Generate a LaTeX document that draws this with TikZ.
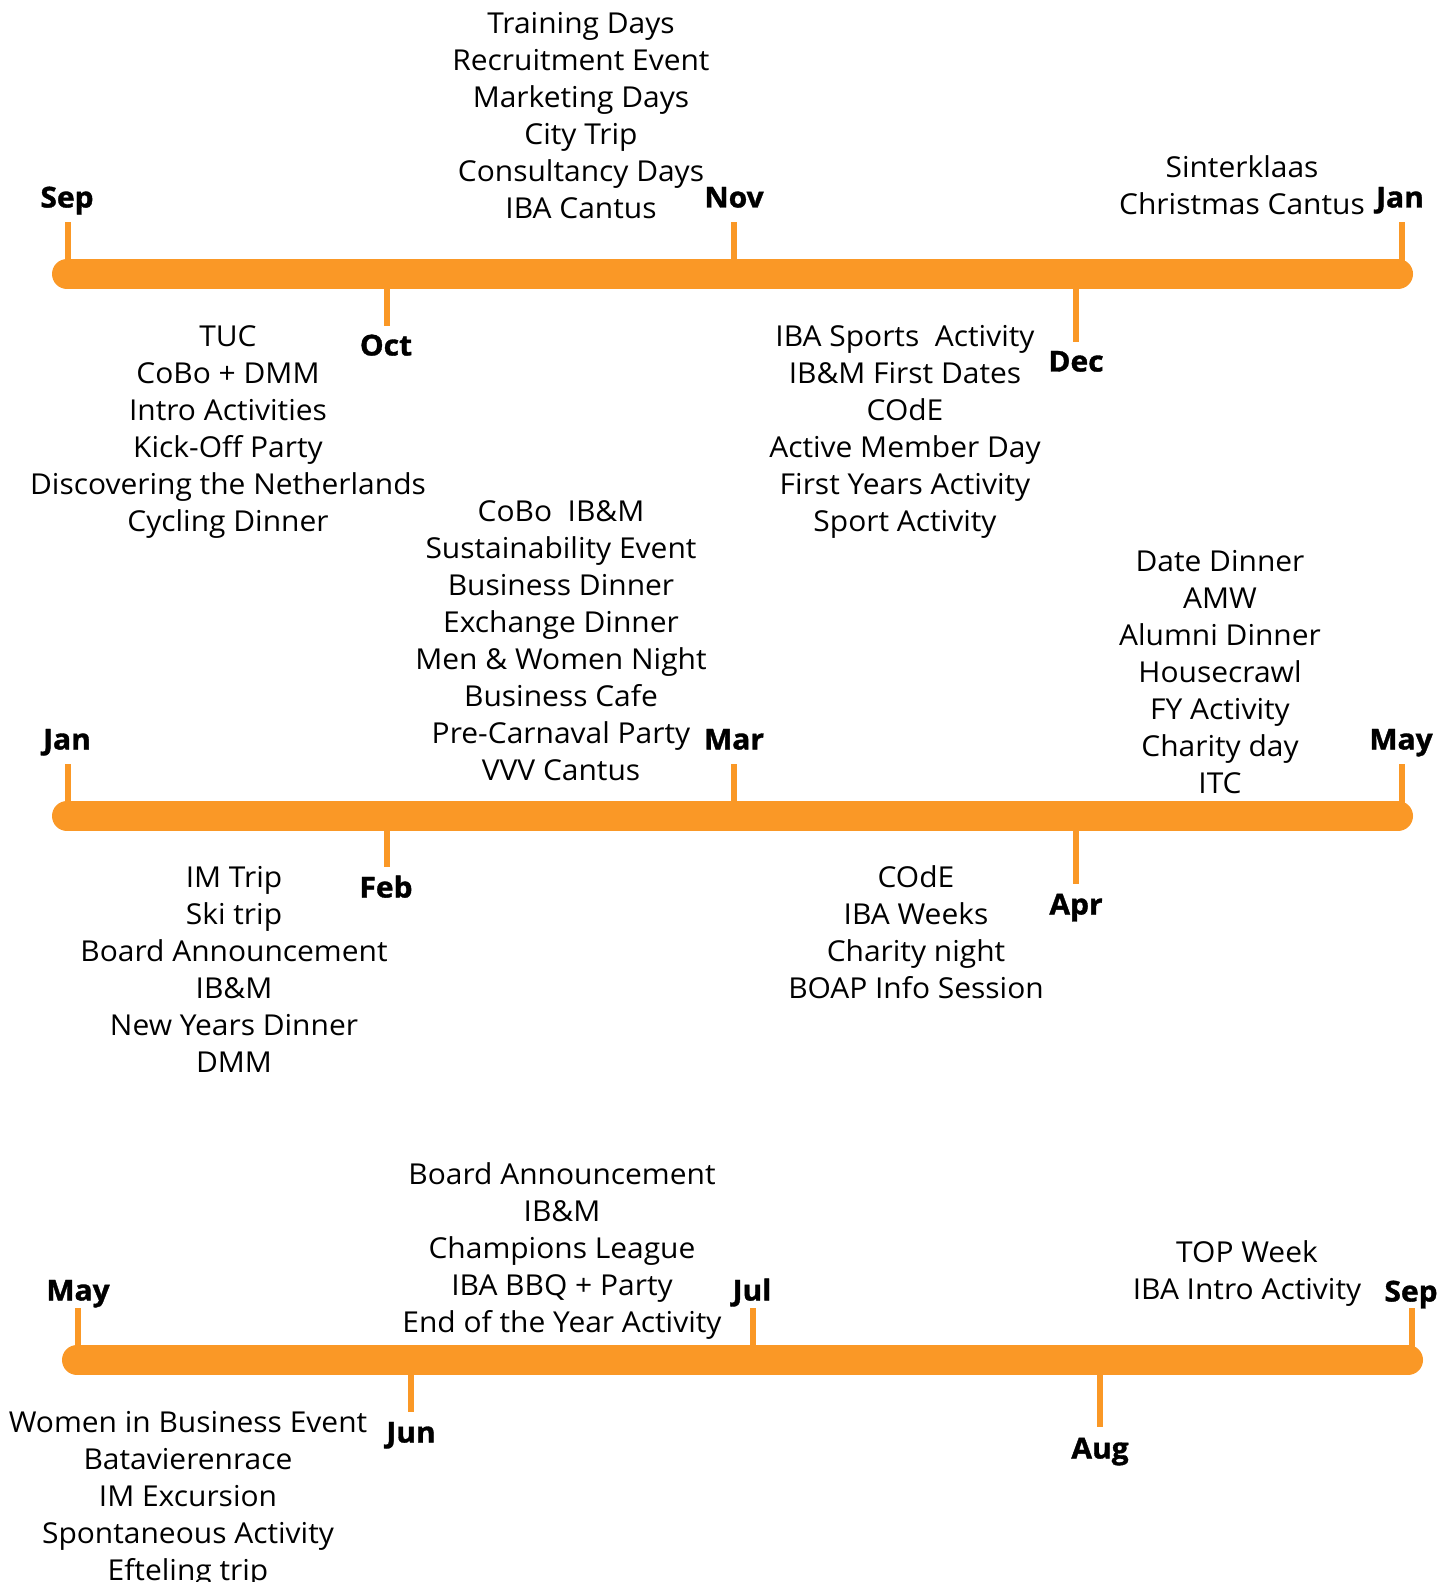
\documentclass[tikz,border=0pt]{standalone}
\usepackage{fontspec}
\setmainfont{Open Sans}[FakeStretch = 1.04, BoldFeatures = {FakeBold = 1.2}]
\definecolor{barorange}{RGB}{250,152,38}
\tikzset{
	bar/.style = {line width = 15pt, line cap = round, barorange},
	tick/.style = {line width = 3pt, barorange},
	month/.style = {font = \fontsize{14.4}{17}\selectfont\bfseries, inner sep = 0pt, anchor = base},
	events/.style = {font = \fontsize{14.4}{18.5}\selectfont, align = center, inner sep = 0pt,
		execute at begin node = \strut, execute at end node = \strut}
}
\begin{document}
\begin{tikzpicture}[x = 0.5pt, y = -0.5pt]
	\useasboundingbox (0, 0) rectangle (1452, 1582);

	% first row: Sep - Jan
	\coordinate (a0) at (67, 274);
	\coordinate (a6) at (1398, 274);
	\coordinate (a1) at (68, 274);
	\coordinate (a2) at (387, 274);
	\coordinate (a3) at (734, 274);
	\coordinate (a4) at (1076, 274);
	\coordinate (a5) at (1402, 274);
	\coordinate (a1e) at (68, 222);
	\coordinate (a2e) at (387, 326);
	\coordinate (a3e) at (734, 222);
	\coordinate (a4e) at (1076, 342);
	\coordinate (a5e) at (1402, 222);

	% second row: Jan - May
	\coordinate (b0) at (67, 816);
	\coordinate (b6) at (1398, 816);
	\coordinate (b1) at (68, 816);
	\coordinate (b2) at (387, 816);
	\coordinate (b3) at (734, 816);
	\coordinate (b4) at (1076, 816);
	\coordinate (b5) at (1402, 816);
	\coordinate (b1e) at (68, 764);
	\coordinate (b2e) at (387, 867);
	\coordinate (b3e) at (734, 764);
	\coordinate (b4e) at (1076, 884);
	\coordinate (b5e) at (1402, 764);

	% third row: May - Sep
	\coordinate (c0) at (77, 1360);
	\coordinate (c6) at (1408, 1360);
	\coordinate (c1) at (78, 1360);
	\coordinate (c2) at (411, 1360);
	\coordinate (c3) at (753, 1360);
	\coordinate (c4) at (1100, 1360);
	\coordinate (c5) at (1412, 1360);
	\coordinate (c1e) at (78, 1308);
	\coordinate (c2e) at (411, 1412);
	\coordinate (c3e) at (753, 1308);
	\coordinate (c4e) at (1100, 1427);
	\coordinate (c5e) at (1412, 1308);

	\draw [tick] (a1) -- (a1e);
	\draw [tick] (a2) -- (a2e);
	\draw [tick] (a3) -- (a3e);
	\draw [tick] (a4) -- (a4e);
	\draw [tick] (a5) -- (a5e);
	\draw [tick] (b1) -- (b1e);
	\draw [tick] (b2) -- (b2e);
	\draw [tick] (b3) -- (b3e);
	\draw [tick] (b4) -- (b4e);
	\draw [tick] (b5) -- (b5e);
	\draw [tick] (c1) -- (c1e);
	\draw [tick] (c2) -- (c2e);
	\draw [tick] (c3) -- (c3e);
	\draw [tick] (c4) -- (c4e);
	\draw [tick] (c5) -- (c5e);

	\draw [bar] (a0) -- (a6);
	\draw [bar] (b0) -- (b6);
	\draw [bar] (c0) -- (c6);

	\node [month] (sepA) at (67, 207.5) {Sep};
	\node [month] (octA) at (386, 355.5) {Oct};
	\node [month] (novA) at (734, 207.5) {Nov};
	\node [month] (decA) at (1076, 371.5) {Dec};
	\node [month] (janA) at (1400, 207.5) {Jan};

	\node [month] (janB) at (67, 749.5) {Jan};
	\node [month] (febB) at (386, 897.5) {Feb};
	\node [month] (marB) at (734, 749.5) {Mar};
	\node [month] (aprB) at (1076, 914.5) {Apr};
	\node [month] (mayB) at (1401, 749.5) {May};

	\node [month] (mayC) at (78, 1300.5) {May};
	\node [month] (junC) at (411, 1442.5) {Jun};
	\node [month] (julC) at (752, 1300.5) {Jul};
	\node [month] (augC) at (1100, 1458.5) {Aug};
	\node [month] (sepC) at (1411, 1301.5) {Sep};

	\node [events] (novEvents) at (581, 120.9) {Training Days\\Recruitment Event\\Marketing Days\\City Trip\\Consultancy Days\\IBA Cantus};
	\node [events] (decEvents) at (1242, 191.1) {Sinterklaas\\Christmas Cantus};
	\node [events] (sepEvents) at (228, 433.8) {TUC\\CoBo + DMM\\Intro Activities\\Kick-Off Party\\Discovering the Netherlands\\Cycling Dinner};
	\node [events] (octEvents) at (905, 433.8) {IBA Sports~ Activity\\IB\&M First Dates\\COdE\\Active Member Day\\First Years Activity\\Sport Activity};

	\node [events] (febEvents) at (561, 645.8) {CoBo~ IB\&M\\Sustainability Event\\Business Dinner\\Exchange Dinner\\Men \& Women Night\\Business Cafe\\Pre-Carnaval Party\\VVV Cantus};
	\node [events] (aprEvents) at (1220, 677.3) {Date Dinner\\AMW\\Alumni Dinner\\Housecrawl\\FY Activity\\Charity day\\ITC};
	\node [events] (janEvents) at (234, 974.8) {IM Trip\\Ski trip\\Board Announcement\\IB\&M\\New Years Dinner\\DMM};
	\node [events] (marEvents) at (916, 937.8) {COdE\\IBA Weeks\\Charity night\\BOAP Info Session};

	\node [events] (junEvents) at (562, 1252.8) {Board Announcement\\IB\&M\\Champions League\\IBA BBQ + Party\\End of the Year Activity};
	\node [events] (augEvents) at (1247, 1275.3) {TOP Week\\IBA Intro Activity};
	\node [events] (mayEvents) at (188, 1501.3) {Women in Business Event\\Batavierenrace\\IM Excursion\\Spontaneous Activity\\Efteling trip};
\end{tikzpicture}
\end{document}
